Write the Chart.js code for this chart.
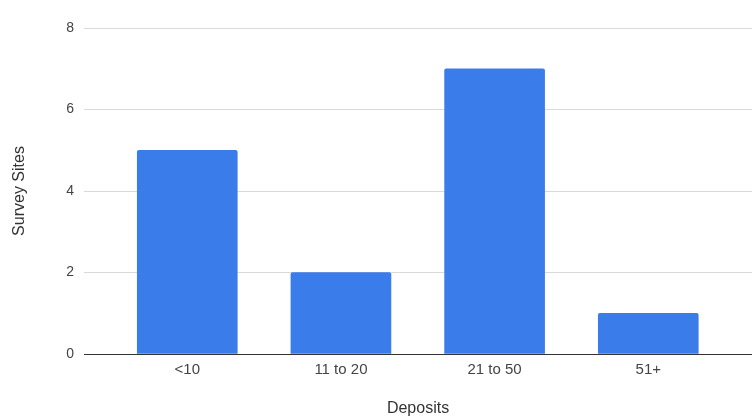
<!DOCTYPE html>
<html>
<head>
<meta charset="utf-8">
<script src="https://cdn.jsdelivr.net/npm/chart.js@4"></script>
<style>
  html, body { margin: 0; padding: 0; background: #ffffff; }
  #wrap { width: 752px; height: 420px; position: relative; }
</style>
</head>
<body>
<div id="wrap"><canvas id="c"></canvas></div>
<script>
const categories = ['<10', '11 to 20', '21 to 50', '51+'];
const surveySites = [5, 2, 7, 1];
const yTicks = [0, 2, 4, 6, 8];
const xTitle = 'Deposits';
const yTitle = 'Survey Sites';

const points = categories.map((c, i) => ({ x: i, y: surveySites[i] }));

new Chart(document.getElementById('c'), {
  type: 'bar',
  data: {
    datasets: [{
      label: yTitle,
      data: points,
      backgroundColor: '#3b7ceb',
      borderWidth: 0,
      borderRadius: 2,
      borderSkipped: 'bottom',
      barThickness: 100
    }]
  },
  options: {
    responsive: true,
    maintainAspectRatio: false,
    animation: false,
    layout: { padding: { top: 28, right: 0, bottom: 0, left: 0 } },
    plugins: { legend: { display: false }, tooltip: { enabled: false } },
    scales: {
      x: {
        type: 'linear',
        offset: false,
        min: -0.672,
        max: 3.675,
        grid: { display: false, drawTicks: false },
        border: { display: false },
        afterBuildTicks: (axis) => { axis.ticks = categories.map((c, i) => ({ value: i })); },
        afterFit: (axis) => { axis.height = 66; axis.paddingLeft = 0; axis.paddingRight = 0; },
        ticks: {
          padding: 7,
          color: '#444444',
          font: { family: '"Liberation Sans", Arial, sans-serif', size: 15 },
          callback: (v) => categories[v] !== undefined ? categories[v] : ''
        },
        title: {
          display: true,
          text: xTitle,
          color: '#333333',
          padding: { top: 0, bottom: 2 },
          font: { family: '"Liberation Sans", Arial, sans-serif', size: 16 }
        }
      },
      y: {
        min: 0,
        max: 8,
        grid: {
          drawTicks: false,
          color: (ctx) => ctx.tick && ctx.tick.value === 0 ? '#333333' : '#d9d9d9',
          lineWidth: 1
        },
        border: { display: false },
        afterBuildTicks: (axis) => { axis.ticks = yTicks.map(v => ({ value: v })); },
        afterFit: (axis) => { axis.width = 84; axis.paddingTop = 0; axis.paddingBottom = 0; },
        ticks: {
          padding: 10,
          color: '#444444',
          font: { family: '"Liberation Sans", Arial, sans-serif', size: 14 }
        },
        title: {
          display: true,
          text: yTitle,
          color: '#333333',
          padding: { top: 10, bottom: 0 },
          font: { family: '"Liberation Sans", Arial, sans-serif', size: 16 }
        }
      }
    }
  }
});
</script>
</body>
</html>
